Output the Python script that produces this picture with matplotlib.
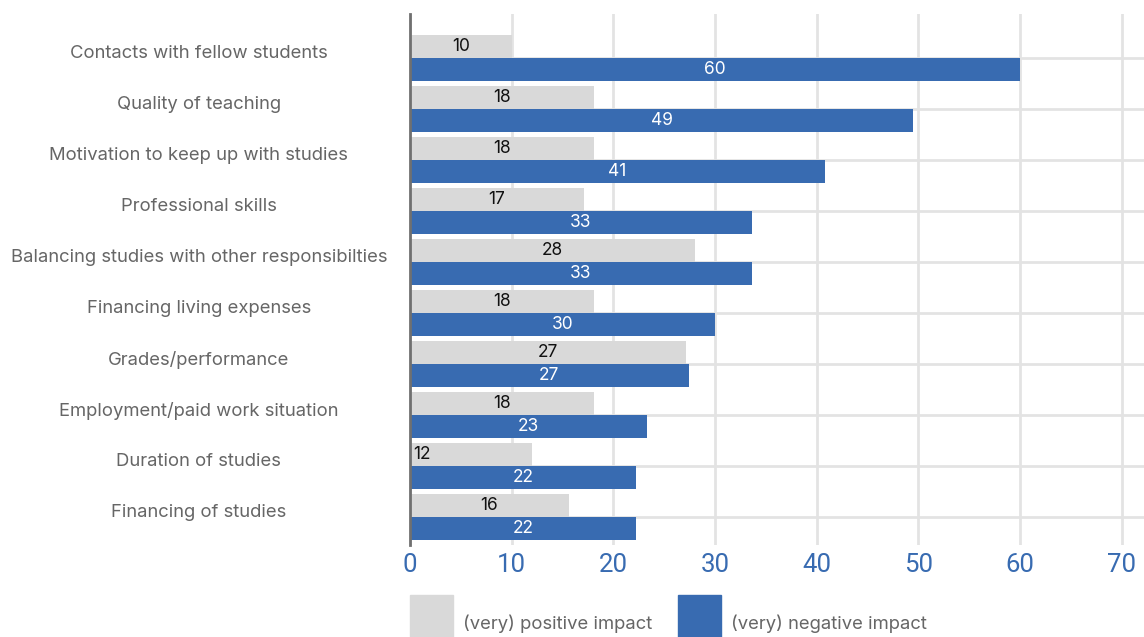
import matplotlib.pyplot as plt
import matplotlib.transforms as mtransforms
import numpy as np

categories = [
    "Contacts with fellow students",
    "Quality of teaching",
    "Motivation to keep up with studies",
    "Professional skills",
    "Balancing studies with other responsibilties",
    "Financing living expenses",
    "Grades/performance",
    "Employment/paid work situation",
    "Duration of studies",
    "Financing of studies",
]
# bar lengths as drawn, and the numbers printed on them
positive = [10.0, 18.1, 18.1, 17.1, 28.0, 18.1, 27.1, 18.1, 12.0, 15.6]
negative = [60.0, 49.5, 40.8, 33.6, 33.6, 30.0, 27.4, 23.3, 22.2, 22.2]
positive_labels = [10, 18, 18, 17, 28, 18, 27, 18, 12, 16]
negative_labels = [60, 49, 41, 33, 33, 30, 27, 23, 22, 22]
legend_labels = ["(very) positive impact", "(very) negative impact"]
xticks = [0, 10, 20, 30, 40, 50, 60, 70]

GRAY = "#d9d9d9"
BLUE = "#386bb1"
TEXT = "#666666"

plt.rcParams["font.family"] = ["Inter", "DejaVu Sans"]

fig = plt.figure(figsize=(11.44, 6.37), dpi=100)
ax = fig.add_axes([0.3584, 0.1444, 0.6416, 0.8336])

y = np.arange(len(categories))
h = 0.45
ax.barh(y - h / 2, positive, height=h, color=GRAY, zorder=2)
ax.barh(y + h / 2, negative, height=h, color=BLUE, zorder=2)

for i in range(len(categories)):
    if positive_labels[i] == 12:
        # this one sits at the left edge in the original
        ax.text(0.3, y[i] - h / 2, str(positive_labels[i]), ha="left", va="center",
                fontsize=12.5, color="#111111", zorder=3)
    else:
        ax.text(positive[i] / 2, y[i] - h / 2, str(positive_labels[i]), ha="center",
                va="center", fontsize=12.5, color="#111111", zorder=3)
    ax.text(negative[i] / 2, y[i] + h / 2, str(negative_labels[i]), ha="center",
            va="center", fontsize=12.5, color="white", zorder=3)

ax.set_xlim(0, 72.2)
ax.set_ylim(9.55, -0.86)
ax.set_xticks(xticks)
ax.set_xticklabels([str(t) for t in xticks], fontsize=18.5, color=BLUE,
                   family=["Roboto", "DejaVu Sans"])
ax.set_yticks(y)
ax.set_yticklabels(categories, fontsize=13.3, color=TEXT, ha="center")
ax.tick_params(axis="y", length=0, pad=152)
ax.tick_params(axis="x", length=0, pad=6)
shift = mtransforms.ScaledTranslation(0, 6 / 100, fig.dpi_scale_trans)
for lab in ax.get_yticklabels():
    lab.set_transform(lab.get_transform() + shift)

ax.grid(True, color="#e3e3e3", linewidth=2, zorder=0)
ax.set_axisbelow(True)
for s in ["top", "right", "bottom"]:
    ax.spines[s].set_visible(False)
ax.spines["left"].set_color("#707070")
ax.spines["left"].set_linewidth(2)
ax.spines["left"].set_zorder(4)

# legend below the plot, drawn by hand in pixel units
W, H = 1144, 637
for x0, col, lab in [(410, GRAY, legend_labels[0]), (678, BLUE, legend_labels[1])]:
    fig.patches.append(plt.Rectangle((x0 / W, 0), 43 / W, 42 / H, color=col,
                                     transform=fig.transFigure, figure=fig))
    fig.text((x0 + 53) / W, 1 - 624 / H, lab, ha="left", va="center",
             fontsize=13.3, color=TEXT)

fig.savefig("out.png", dpi=100)
